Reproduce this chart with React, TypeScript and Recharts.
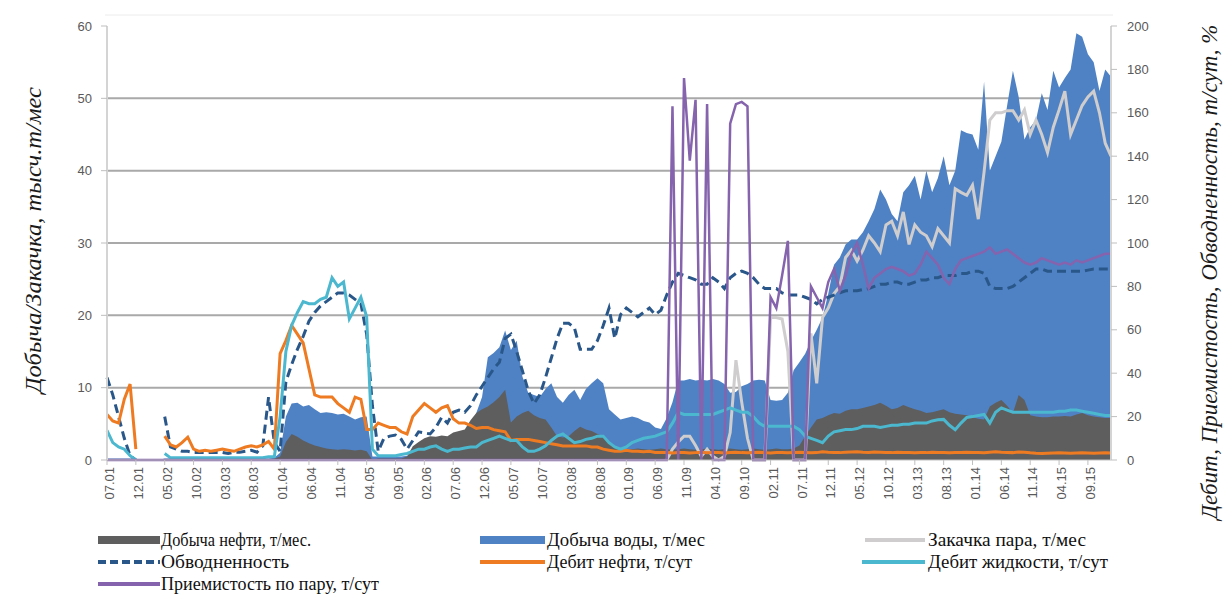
import React from 'react';
import { ComposedChart, Area, Line, XAxis, YAxis, CartesianGrid } from 'recharts';

const _ = null;

// Categories: months from 07.01 to 01.16
const months: string[] = [];
for (let i = 0; i < 175; i++) {
  const mo = ((6 + i) % 12) + 1;
  const yr = 1 + Math.floor((6 + i) / 12);
  months.push(String(mo).padStart(2, '0') + '.' + String(yr).padStart(2, '0'));
}

const leftTicks = [0, 10, 20, 30, 40, 50, 60];
const rightTicks = [0, 20, 40, 60, 80, 100, 120, 140, 160, 180, 200];

// Добыча нефти, тыс.т/мес
const oil = [
  0, 0, 0, 0, 0, 0, 0, 0, 0, 0,
  0, 0, 0, 0, 0, 0, 0, 0, 0, 0,
  0, 0, 0, 0, 0, 0, 0, 0, 0, 0.2,
  0.5, 2.5, 3.6, 3.2, 2.7, 2.3, 2.0, 1.8, 1.6, 1.5,
  1.4, 1.5, 1.4, 1.3, 1.4, 1.2, 0, 0.2, 0.2, 0.2,
  0.2, 0.2, 0.5, 1.9, 2.5, 3.0, 3.3, 3.2, 3.4, 3.3,
  3.8, 4.0, 4.2, 5.5, 6.5, 7.0, 7.4, 8.0, 8.7, 9.7,
  5.2, 6.0, 6.5, 6.8, 6.2, 5.8, 5.6, 4.5, 3.3, 3.1,
  3.3, 4.0, 4.6, 4.2, 4.0, 3.6, 3.3, 2.5, 1.9, 1.5,
  1.4, 1.5, 1.6, 1.5, 1.4, 1.5, 1.6, 1.5, 1.4, 1.5,
  1.6, 1.5, 1.4, 1.5, 1.6, 1.5, 1.4, 1.5, 1.6, 1.5,
  1.4, 1.5, 1.6, 1.5, 1.4, 1.5, 1.6, 1.5, 1.5, 1.6,
  2.0, 3.3, 4.5, 5.6, 5.8, 6.2, 6.5, 6.4, 6.8, 7.0,
  7.0, 7.2, 7.4, 7.6, 7.9, 7.5, 7.0, 7.2, 7.6, 7.3,
  7.0, 6.8, 6.5, 6.6, 6.8, 7.0, 6.6, 6.4, 6.3, 6.2,
  5.9, 5.7, 5.6, 7.4, 7.9, 8.3, 7.5, 6.5, 9.0, 8.3,
  6.2, 6.0, 5.9, 5.9, 6.0, 6.0, 6.1, 6.0, 6.3, 6.5,
  6.2, 6.0, 5.9, 5.8, 5.8,
];

// Добыча воды, тыс.т/мес
const water = [
  0.2, 0.2, 0.2, 0.2, 0.2, 0.1, 0, 0, 0, 0,
  0.2, 0.2, 0.2, 0.2, 0.2, 0.2, 0.2, 0.2, 0.2, 0.2,
  0.2, 0.2, 0.2, 0.2, 0.2, 0.2, 0.2, 0.2, 0.2, 0.3,
  1.0, 6.0, 7.8, 7.9, 7.4, 7.6, 7.0, 6.5, 6.6, 6.5,
  6.3, 6.4, 6.0, 5.6, 5.9, 6.0, 0.5, 0.5, 0.5, 0.5,
  0.5, 0.5, 0.6, 0.7, 0.8, 0.8, 0.9, 1.0, 1.1, 1.2,
  1.5, 2.5, 3.3, 4.2, 6.5, 8.7, 14.2, 14.8, 15.6, 17.9,
  15.2, 16.5, 11.5, 9.3, 9.0, 8.7, 9.8, 10.6, 8.7, 7.9,
  9.0, 9.7, 8.3, 9.8, 10.6, 11.3, 10.6, 7.0, 6.3, 5.6,
  5.8, 6.0, 5.8, 5.4, 5.2, 4.5, 4.3, 5.8, 8.0, 11.0,
  11.0, 11.2, 11.0, 11.1, 11.0, 11.2, 11.0, 10.5, 9.3, 9.4,
  10.2, 10.5, 11.0, 11.1, 11.0, 8.3, 8.2, 8.3, 9.3, 12.4,
  13.5, 14.7, 16.5, 18.0, 19.7, 23.0, 27.0, 28.0, 29.8, 30.5,
  30.5, 31.5, 33.0, 34.7, 37.4, 36.0, 34.0, 33.0, 37.0, 38.0,
  39.3, 36.0, 40.0, 37.0, 39.0, 42.0, 38.0, 40.0, 45.6, 45.2,
  45.0, 42.9, 52.3, 40.0, 42.0, 44.0, 49.0, 53.8, 50.2, 44.3,
  46.0, 47.0, 50.7, 48.4, 53.8, 51.5, 52.8, 54.0, 59.0, 58.5,
  56.1, 55.0, 51.0, 54.0, 53.0,
];

// Закачка пара, тыс.т/мес
const steam = [
  _, _, _, _, _, _, _, _, _, _,
  _, _, _, _, _, _, _, _, _, _,
  _, _, _, _, _, _, _, _, _, _,
  _, _, _, _, _, _, _, _, _, _,
  _, _, _, _, _, _, _, _, _, _,
  _, _, _, _, _, _, _, _, _, _,
  _, _, _, _, _, _, _, _, _, _,
  _, _, _, _, _, _, _, _, _, _,
  _, _, _, _, _, _, _, _, _, _,
  _, _, _, _, _, _, _, 0, 1.5, 2.5,
  3.3, 3.3, 2.0, 0.5, 1.5, 0.5, 0, 0.5, 3.8, 13.8,
  8, 3, 0, 0, 0, 19.7, 19.7, 19.5, 15, 0,
  0, 0, 17.5, 10.6, 19.7, 21, 23, 24, 28, 29,
  27.5, 29, 31, 30, 28.8, 32.5, 33, 31, 34.3, 29.8,
  32.5, 31.5, 31, 29.5, 32, 31, 30, 37.5, 37, 36.6,
  38, 33.3, 39.8, 47, 48, 48, 48.3, 48.3, 47, 48.4,
  45, 47, 45, 42.5, 46, 48.4, 51, 45, 47, 49,
  50.2, 51, 48, 43.8, 42,
];

// Обводненность, %
const waterCut = [
  38, 30, 20, 10, 2, 0, _, _, _, _,
  20, 6, 5, 4, 4, 3.5, 3.5, 3.5, 3.5, 3.5,
  3.5, 3, 3.6, 3.6, 4, 4.5, 3.6, 6.5, 29, 8,
  4, 36, 44, 51, 57, 64, 68, 71, 73, 75,
  77, 77, 76, 74, 72, 58, 25, 4, 10, 11,
  11.5, 9.5, 5, 9, 13, 12.5, 12, 15, 19.6, 17,
  22, 23, 22, 25, 30, 34, 38, 42, 45, 56,
  58, 50, 41, 32, 26, 30, 38, 47, 56, 63,
  63, 61, 51, 51, 51, 55, 62, 70, 56, 67,
  70, 68, 66, 68, 70, 67, 69, 76, 82, 86,
  85, 84, 83, 81, 81, 84, 82, 79, 84, 86,
  87, 86, 84, 81, 79, 79, 79, 77, 76, 76,
  76, 75, 74, 72, 74, 75, 76, 77, 78, 78,
  78, 78.5, 79, 80, 81, 81, 82, 82, 81, 81,
  82, 83, 83, 84, 84, 85, 85, 85, 86, 86,
  87, 87, 86, 80, 79, 79, 79, 80, 82, 84,
  86, 88, 88, 87, 87, 87, 87, 87, 87, 87,
  87.5, 88, 88, 88, 88,
];

// Дебит нефти, т/сут
const oilRate = [
  21, 18, 17, 28, 35, 5, _, _, _, _,
  11, 7, 6, 8, 10.5, 5, 4, 4.5, 4, 4.5,
  5, 4.5, 4, 5, 6, 6.5, 6, 7, 8.5, 5,
  49, 55, 62, 58, 54, 42, 30, 29, 29, 29,
  26, 24, 22, 29, 28, 14, 14, 17, 16, 15,
  15, 13, 12, 20, 23, 26, 24, 22, 24, 25,
  19, 17, 17, 16, 14.5, 15, 15, 14, 13.5, 13,
  9, 9.5, 9.5, 9.5, 9, 8.5, 8, 7.5, 7, 6.5,
  6.5, 6.5, 6.5, 6.5, 6, 6, 5, 4.5, 4, 4,
  4.5, 4, 4, 3.8, 4, 3.5, 3.5, 3.5, 3.2, 3.5,
  3.5, 3.2, 3.4, 3.6, 3.3, 3.5, 3.4, 3.2, 3.5, 3.6,
  3.4, 3.3, 3.5, 3.6, 3.4, 3.2, 3.5, 3.4, 3.3, 3.5,
  3.6, 3.5, 3.3, 3.4, 3.8, 3.6, 3.5, 3.4, 3.6, 3.7,
  3.8, 3.6, 3.5, 3.7, 3.6, 3.5, 3.4, 3.6, 3.5, 3.4,
  3.3, 3.5, 3.4, 3.6, 3.5, 3.4, 3.3, 3.4, 3.5, 3.6,
  3.5, 3.4, 3.3, 3.6, 3.8, 3.6, 3.5, 3.4, 3.7, 3.6,
  3.3, 3.1, 3.0, 3.1, 3.2, 3.3, 3.2, 3.1, 3.2, 3.3,
  3.2, 3.1, 3.2, 3.3, 3.2,
];

// Дебит жидкости, т/сут
const liquidRate = [
  13.7, 8, 6, 5, 2, 0, _, _, _, _,
  3, 1, 1, 1, 1, 1, 1, 1, 1, 1,
  1, 1, 1, 1, 1, 1, 1, 1, 1.5, 1.5,
  20, 50, 62, 68, 73, 72, 72, 74, 75, 84,
  80, 82, 65, 70, 75, 66, 5, 2, 2, 2,
  2, 2.5, 3, 4, 5, 5, 6, 6.5, 5, 4,
  5, 5, 5.5, 6, 6, 8, 9, 10, 11, 10,
  9, 9, 6, 4, 4, 5, 6.5, 9, 11, 12,
  10, 8, 8.5, 9.5, 10, 11, 11, 8, 6, 5,
  6, 8, 9, 10, 10.5, 11, 12, 13, 17, 22,
  21, 21, 21, 21, 21, 21, 22, 23, 24, 23,
  22, 22, 20, 17, 15.5, 15.5, 15.5, 15.5, 15.5, 15.5,
  14, 11, 10, 9, 8, 11, 13, 13.5, 14, 14,
  14.5, 15.5, 15.5, 15.5, 15, 15.5, 16, 16, 16.5, 16.5,
  17, 17, 17, 18, 18.5, 18.7, 16, 14, 17, 19.6,
  20, 20.5, 21, 17, 22, 24, 23, 22, 22, 22,
  22, 22, 22, 22, 22, 22.5, 22.5, 23, 23, 22.5,
  22, 21.5, 21, 20.5, 20.5,
];

// Приемистость по пару, т/сут
const injectivity = [
  0, 0, 0, 0, 0, 0, 0, 0, 0, 0,
  0, 0, 0, 0, 0, 0, 0, 0, 0, 0,
  0, 0, 0, 0, 0, 0, 0, 0, 0, 0,
  0, 0, 0, 0, 0, 0, 0, 0, 0, 0,
  0, 0, 0, 0, 0, 0, 0, 0, 0, 0,
  0, 0, 0, 0, 0, 0, 0, 0, 0, 0,
  0, 0, 0, 0, 0, 0, 0, 0, 0, 0,
  0, 0, 0, 0, 0, 0, 0, 0, 0, 0,
  0, 0, 0, 0, 0, 0, 0, 0, 0, 0,
  0, 0, 0, 0, 0, 0, 0, 0, 163, 0,
  176, 138, 166, 0, 164, 0, 0, 0, 155, 164,
  165, 163, 0, 0, 0, 75, 70, 85, 101, 0,
  0, 0, 80, 75, 70, 82, 88, 78, 85, 95,
  100, 90, 79, 84, 86, 88, 89, 88, 87, 85,
  86, 90, 96, 93, 90, 84, 81, 88, 92, 93,
  94, 95, 96, 98, 95, 96, 97, 95, 93, 91,
  90, 91, 93, 92, 91, 90, 91, 90, 92, 91,
  92, 93, 94, 95, 95,
];

const data = months.map((m, i) => ({
  m,
  oil: oil[i],
  water: water[i],
  steam: steam[i],
  waterCut: waterCut[i],
  oilRate: oilRate[i],
  liquidRate: liquidRate[i],
  injectivity: injectivity[i],
}));

const C = {
  oil: '#5e5e5e',
  water: '#4f82c4',
  steam: '#cfcdcd',
  waterCut: '#2a5789',
  oilRate: '#ee7b22',
  liquidRate: '#4cb8cf',
  injectivity: '#8563ad',
};

const SANS = "'Liberation Sans', Arial, sans-serif";
const SERIF = "'Liberation Serif', 'Times New Roman', serif";

const W = 1225;
const H = 597;
const PLOT_TOP = 26;
const PLOT_BOTTOM = 460;
const PLOT_H = PLOT_BOTTOM - PLOT_TOP;
const gridYs = [10, 20, 30, 40, 50].map((v) => PLOT_TOP + PLOT_H * (1 - v / 60));

const XTick = (props: any) => {
  const { x, y, payload } = props;
  return (
    <text
      x={x}
      y={y}
      transform={`rotate(-90, ${x}, ${y})`}
      textAnchor="end"
      dy="0.55em"
      fontSize={13}
      fill="#595959"
      fontFamily={SANS}
    >
      {payload.value}
    </text>
  );
};

const legendRows = [
  { kind: 'rect', color: C.oil, x1: 98, x2: 160, y: 540, label: 'Добыча нефти, т/мес.', tx: 161, tl: 150 },
  { kind: 'rect', color: C.water, x1: 480, x2: 545, y: 540, label: 'Добыча воды, т/мес', tx: 547, tl: 158 },
  { kind: 'line', color: C.steam, x1: 865, x2: 925, y: 540, label: 'Закачка пара, т/мес', tx: 928, tl: 158 },
  { kind: 'dash', color: C.waterCut, x1: 98, x2: 160, y: 562, label: 'Обводненность', tx: 161, tl: 128 },
  { kind: 'line', color: C.oilRate, x1: 480, x2: 545, y: 562, label: 'Дебит нефти, т/сут', tx: 547, tl: 145 },
  { kind: 'line', color: C.liquidRate, x1: 862, x2: 925, y: 562, label: 'Дебит жидкости, т/сут', tx: 928, tl: 180 },
  { kind: 'line', color: C.injectivity, x1: 98, x2: 160, y: 584, label: 'Приемистость по пару, т/сут', tx: 161, tl: 218 },
];

export default function App() {
  return (
    <div style={{ position: 'absolute', left: 0, top: 0, width: W, height: H, background: '#fff' }}>
      <ComposedChart
        width={W}
        height={H}
        data={data}
        margin={{ top: PLOT_TOP, right: 54, bottom: 87, left: 45 }}
      >
        <CartesianGrid
          yAxisId="left"
          vertical={false}
          horizontal={true}
          horizontalPoints={gridYs}
          stroke="#a9a9a9"
          strokeWidth={2}
        />
        <XAxis
          dataKey="m"
          scale="point"
          interval={4}
          height={50}
          tick={<XTick />}
          tickSize={5}
          tickMargin={2}
          axisLine={{ stroke: '#bfbfbf' }}
          tickLine={{ stroke: '#bfbfbf' }}
        />
        <YAxis
          yAxisId="left"
          domain={[0, 60]}
          ticks={leftTicks}
          width={62}
          tickSize={6}
          tickMargin={9}
          axisLine={{ stroke: '#d4d4d4', strokeWidth: 2 }}
          tickLine={{ stroke: '#bfbfbf' }}
          tick={{ fontSize: 13, fill: '#595959', fontFamily: SANS }}
        />
        <YAxis
          yAxisId="right"
          orientation="right"
          domain={[0, 200]}
          ticks={rightTicks}
          width={60}
          tickSize={6}
          tickMargin={10}
          axisLine={{ stroke: '#d4d4d4', strokeWidth: 2 }}
          tickLine={{ stroke: '#bfbfbf' }}
          tick={{ fontSize: 13, fill: '#595959', fontFamily: SANS }}
        />
        <Area
          yAxisId="left"
          type="linear"
          dataKey="water"
          fill={C.water}
          fillOpacity={1}
          stroke="none"
          isAnimationActive={false}
          dot={false}
          activeDot={false}
        />
        <Area
          yAxisId="left"
          type="linear"
          dataKey="oil"
          fill={C.oil}
          fillOpacity={1}
          stroke="none"
          isAnimationActive={false}
          dot={false}
          activeDot={false}
        />
        <Line
          yAxisId="left"
          type="linear"
          dataKey="steam"
          stroke={C.steam}
          strokeWidth={3}
          dot={false}
          activeDot={false}
          isAnimationActive={false}
        />
        <Line
          yAxisId="right"
          type="linear"
          dataKey="waterCut"
          stroke={C.waterCut}
          strokeWidth={3}
          strokeDasharray="9 5"
          dot={false}
          activeDot={false}
          isAnimationActive={false}
        />
        <Line
          yAxisId="right"
          type="linear"
          dataKey="oilRate"
          stroke={C.oilRate}
          strokeWidth={3}
          dot={false}
          activeDot={false}
          isAnimationActive={false}
        />
        <Line
          yAxisId="right"
          type="linear"
          dataKey="liquidRate"
          stroke={C.liquidRate}
          strokeWidth={3}
          dot={false}
          activeDot={false}
          isAnimationActive={false}
        />
        <Line
          yAxisId="right"
          type="linear"
          dataKey="injectivity"
          stroke={C.injectivity}
          strokeWidth={2.5}
          dot={false}
          activeDot={false}
          isAnimationActive={false}
        />
      </ComposedChart>
      <svg
        width={W}
        height={H}
        style={{ position: 'absolute', left: 0, top: 0, pointerEvents: 'none' }}
      >
        <line x1={105} x2={1113} y1={15} y2={15} stroke="#ececec" strokeWidth={1} />
        <text
          x={41}
          y={240}
          transform="rotate(-90, 41, 240)"
          textAnchor="middle"
          fontFamily={SERIF}
          fontStyle="italic"
          fontSize={23}
          fill="#1a1a1a"
          textLength={306}
          lengthAdjust="spacingAndGlyphs"
        >
          Добыча/Закачка, тысч.т/мес
        </text>
        <text
          x={1217}
          y={272}
          transform="rotate(-90, 1217, 272)"
          textAnchor="middle"
          fontFamily={SERIF}
          fontStyle="italic"
          fontSize={23}
          fill="#1a1a1a"
          textLength={495}
          lengthAdjust="spacingAndGlyphs"
        >
          Дебит, Приемистость, Обводненность, т/сут, %
        </text>
        {legendRows.map((r, i) => (
          <g key={i}>
            {r.kind === 'rect' && (
              <rect x={r.x1} y={r.y - 4} width={r.x2 - r.x1} height={8} fill={r.color} />
            )}
            {r.kind === 'line' && (
              <line x1={r.x1} x2={r.x2} y1={r.y} y2={r.y} stroke={r.color} strokeWidth={4} />
            )}
            {r.kind === 'dash' && (
              <line
                x1={r.x1}
                x2={r.x2}
                y1={r.y}
                y2={r.y}
                stroke={r.color}
                strokeWidth={4}
                strokeDasharray="8 4"
              />
            )}
            <text
              x={r.tx}
              y={r.y + 6}
              fontFamily={SERIF}
              fontSize={18}
              fill="#111"
              textLength={r.tl}
              lengthAdjust="spacingAndGlyphs"
            >
              {r.label}
            </text>
          </g>
        ))}
      </svg>
    </div>
  );
}
